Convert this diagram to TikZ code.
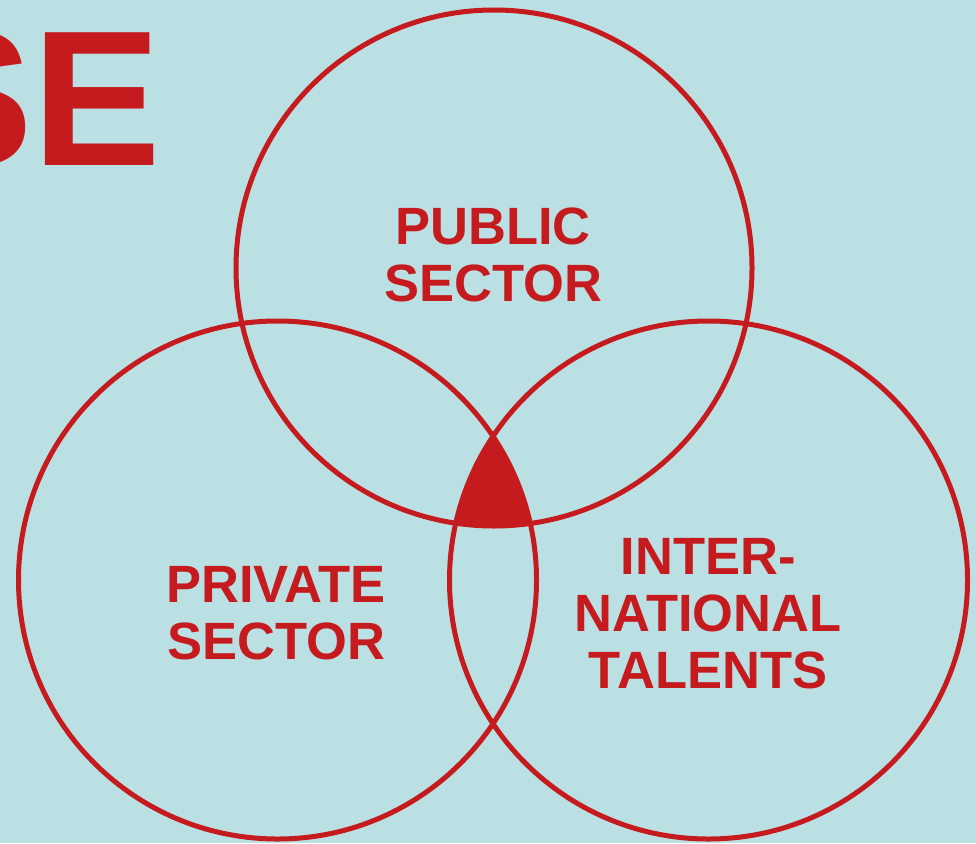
\documentclass[tikz,border=0pt]{standalone}
\usepackage{fontspec}
\setmainfont{Liberation Sans}
\definecolor{bgblue}{RGB}{187,224,227}
\definecolor{vred}{RGB}{198,27,30}
\begin{document}
\begin{tikzpicture}[x=1pt,y=-1pt,
  ring/.style={draw=vred,line width=5pt},
  label/.style={text=vred,font=\bfseries\fontsize{52.5}{57}\selectfont,align=center,inner sep=0pt}]
\useasboundingbox (0,0) rectangle (976,843);
\fill[bgblue] (0,0) rectangle (976,843);
\coordinate (cT) at (494,268);
\coordinate (cL) at (277.5,580);
\coordinate (cR) at (708.5,580);
\begin{scope}
  \clip (cT) circle[radius=258];
  \clip (cL) circle[radius=259];
  \fill[vred] (cR) circle[radius=259];
\end{scope}
\draw[ring] (cT) circle[radius=258];
\draw[ring] (cL) circle[radius=259];
\draw[ring] (cR) circle[radius=259];
\node[text=vred,font=\bfseries\fontsize{193}{193}\selectfont,inner sep=0pt,anchor=base west] (se) at (-96,165) {SE};
\node[label] (pub) at (493,255) {PUBLIC\\SECTOR};
\node[label] (priv) at (276,613.5) {PRIVATE\\SECTOR};
\node[label] (intl) at (708,613.5) {INTER-\\NATIONAL\\TALENTS};
\end{tikzpicture}
\end{document}
